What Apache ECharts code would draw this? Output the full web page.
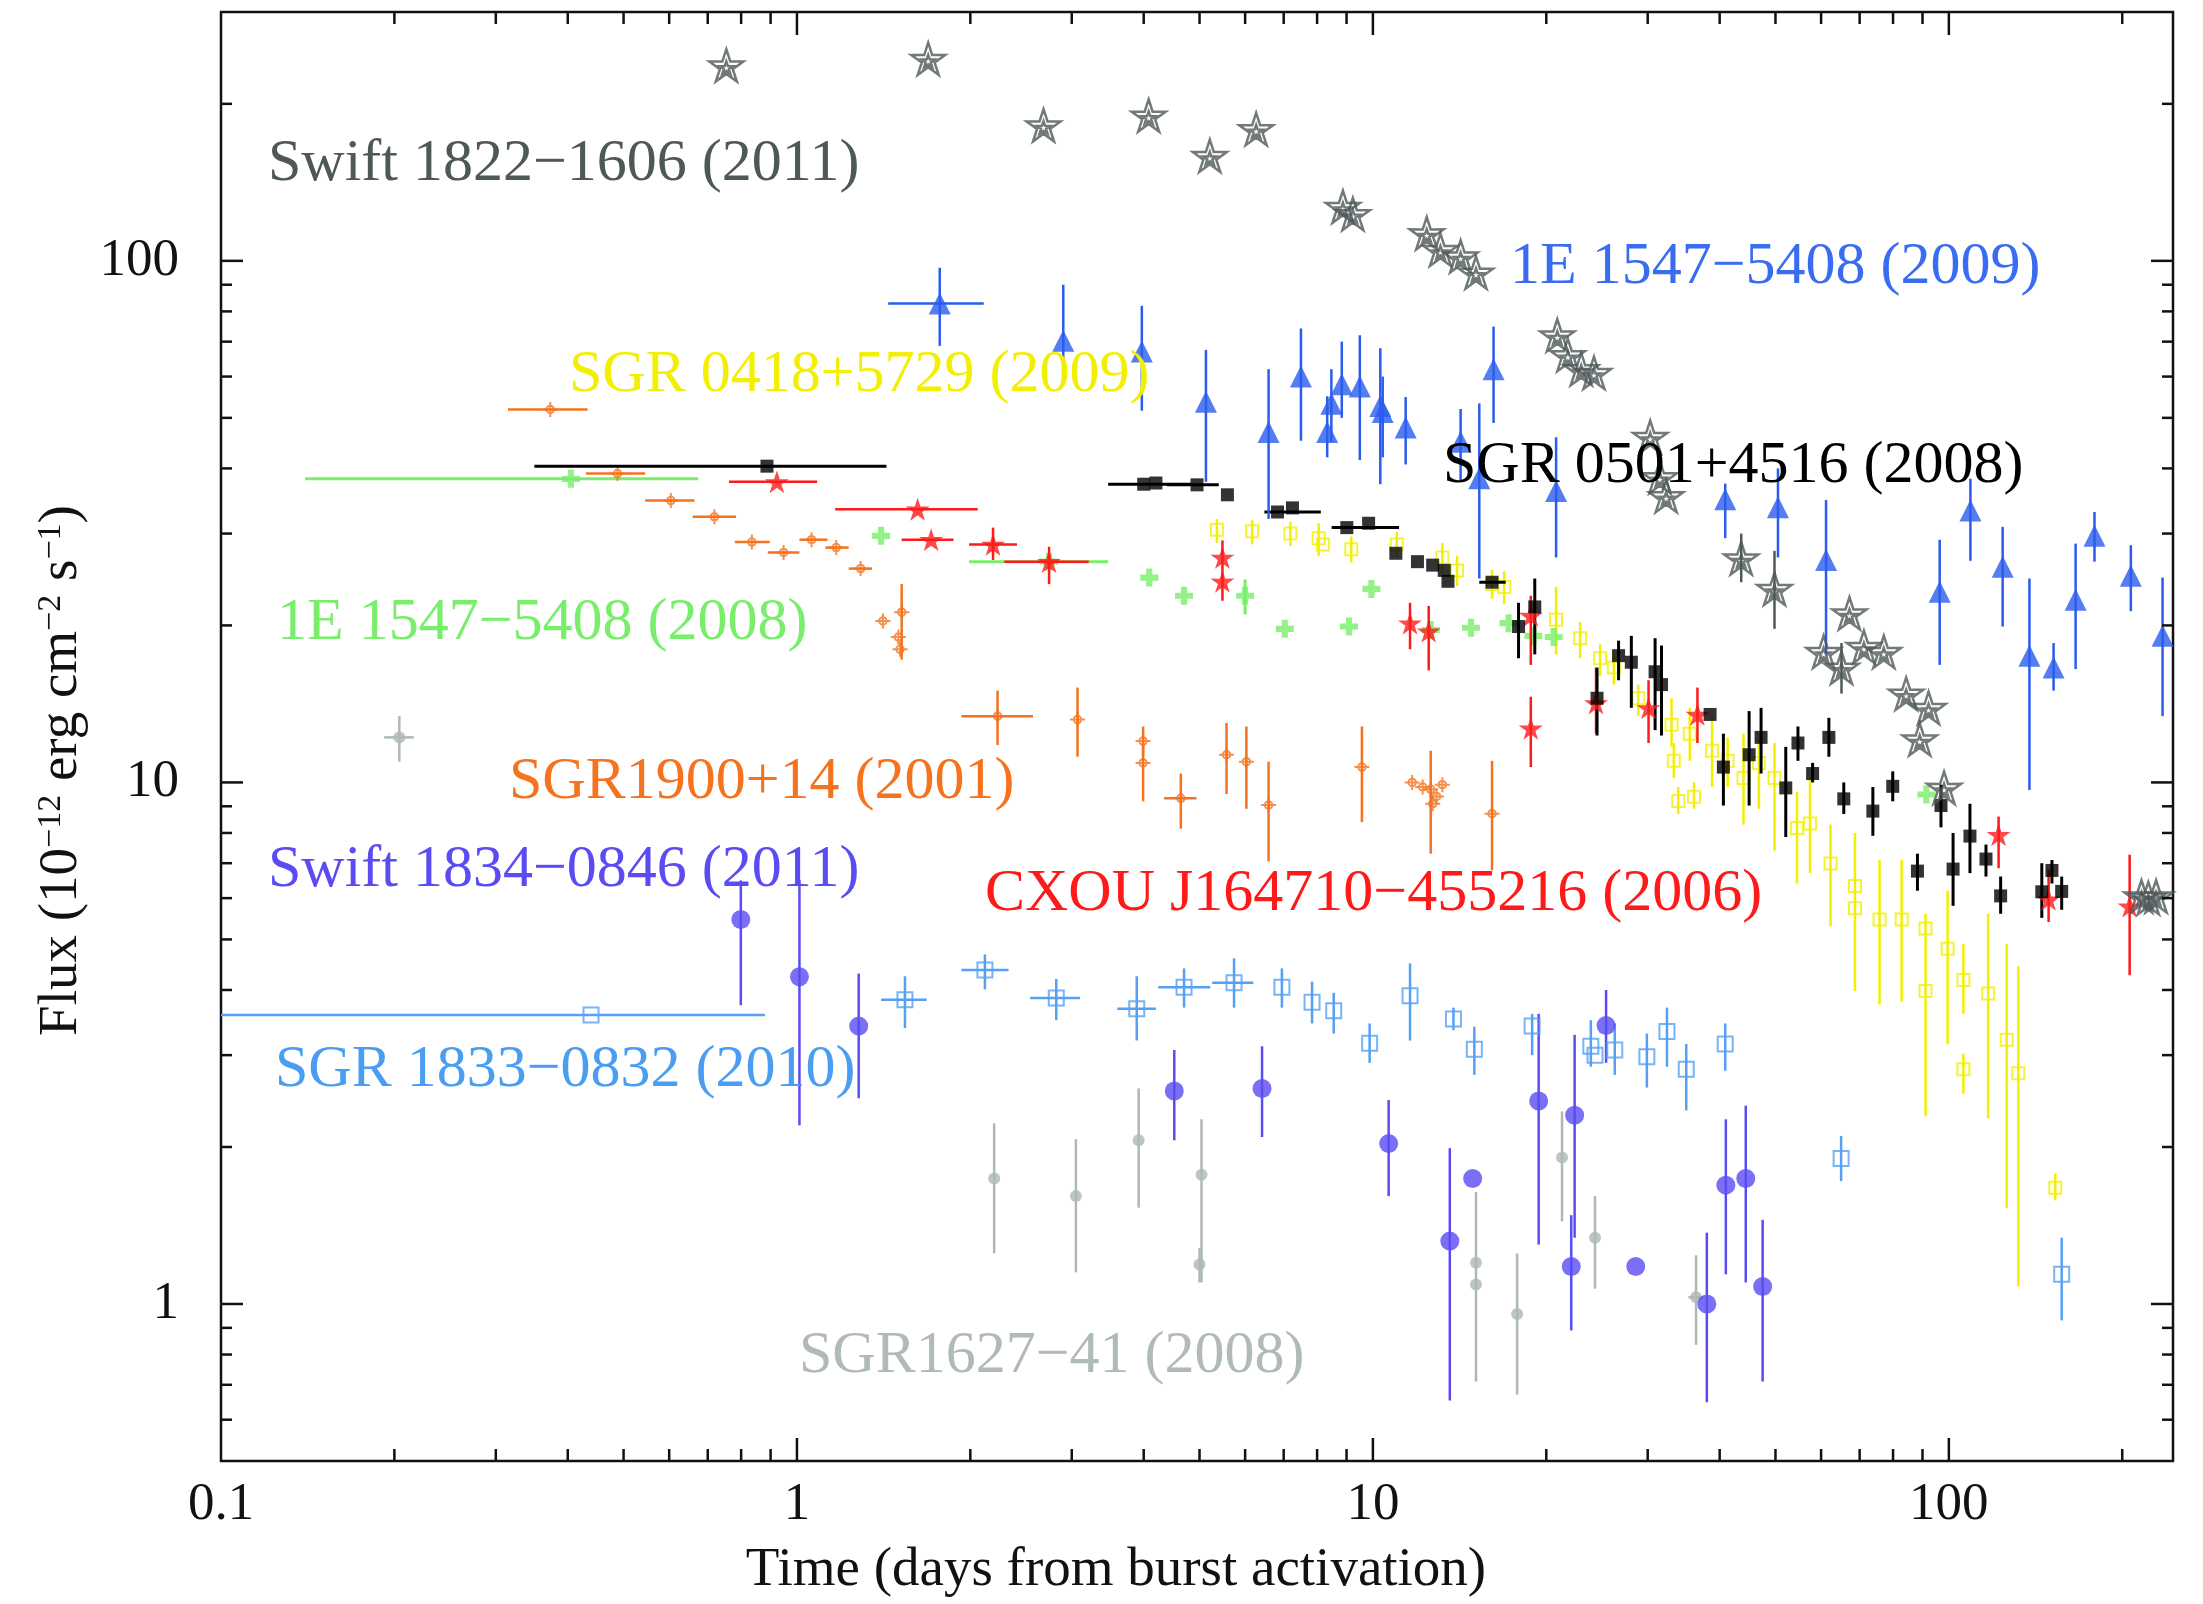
<!DOCTYPE html>
<html>
<head>
<meta charset="utf-8">
<script src="https://cdn.jsdelivr.net/npm/echarts@6/dist/echarts.min.js"></script>
<style>
  html, body { margin: 0; background: #fff; }
  #chart { width: 2203px; height: 1604px; }
</style>
</head>
<body>
<div id="chart"></div>
<script>
const FONT = "'Liberation Serif', 'DejaVu Serif', serif";

// axis ticks (values on the log axes)
const xTickLabels = [0.1, 1, 10, 100];
const xTickMajor = [1, 10, 100];
const xTickMinor = [0.2, 0.3, 0.4, 0.5, 0.6, 0.7, 0.8, 0.9, 2, 3, 4, 5, 6, 7, 8, 9,
                    20, 30, 40, 50, 60, 70, 80, 90, 200];
const yTickMajor = [1, 10, 100];
const yTickMinor = [0.6, 0.7, 0.8, 0.9, 2, 3, 4, 5, 6, 7, 8, 9,
                    20, 30, 40, 50, 60, 70, 80, 90, 200];

// rows: [days, flux, daysLo, daysHi, fluxLo, fluxHi]  (null = no bar)
const swift1822 = [
  [0.754, 237], [1.69, 244], [2.68, 182], [4.08, 190], [5.21, 159], [6.27, 179],
  [8.87, 127], [9.23, 123], [12.4, 113], [13.1, 105], [14.2, 102], [15.1, 95],
  [20.9, 72], [21.8, 66], [23.0, 62], [24.2, 61], [30.3, 46], [31.5, 38.5], [32.3, 35.4],
  [43.6, 26.9, null, null, 24.2, 30.0], [49.8, 23.5, null, null, 19.7, 27.8],
  [60.6, 17.8], [65.1, 16.6, null, null, 14.8, 18.5], [67.2, 21.1], [71.2, 18.2],
  [77.1, 17.8], [84.3, 14.8], [92.2, 13.9], [89.0, 12.1], [98.1, 9.77],
  [216, 6.05], [222, 6.0], [229, 6.05]
];

const e1547_2009 = [
  [1.77, 82.8, 1.44, 2.11, 68.7, 97], [2.90, 70.3, null, null, 65, 90],
  [3.97, 67, null, null, 51.6, 82], [5.13, 53.7, null, null, 37.7, 67.5],
  [6.59, 47, null, null, 32, 62], [7.5, 60, null, null, 45.2, 74.2],
  [8.33, 47, null, null, 42, 55], [8.47, 53.2, null, null, 45, 62],
  [8.83, 58, null, null, 50, 70], [9.49, 57.4, null, null, 41.5, 72],
  [10.3, 52.7, null, null, 37.3, 68], [10.4, 51.3, null, null, 42, 60],
  [11.4, 47.9, null, null, 40.7, 54.8], [14.2, 45, null, null, 38, 52],
  [15.3, 38.3, null, null, 24.6, 53.3], [16.2, 62, null, null, 48.9, 74.8],
  [20.8, 36.2, null, null, 27, 45.9], [40.9, 34.9, null, null, 29.4, 37.4],
  [50.5, 33.7, null, null, 27, 40], [61.2, 26.7, null, null, 17.6, 34.8],
  [96.4, 23.2, null, null, 16.8, 29.2], [109, 33.2, null, null, 26.6, 38.2],
  [124, 25.9, null, null, 19.9, 30.9], [138, 17.5, null, null, 9.67, 24.6],
  [152, 16.6, null, null, 15.0, 18.5], [166, 22.4, null, null, 16.5, 28.7],
  [179, 29.7, null, null, 26.5, 33], [207, 24.9, null, null, 21.3, 28.5],
  [235, 19.1, null, null, 13.4, 24.7]
];

const sgr0418 = [
  [5.36, 30.5, null, null, 28.8, 32.0], [6.17, 30.3, null, null, 28.6, 31.8],
  [7.19, 30.0, null, null, 28.4, 31.6], [8.05, 29.4, null, null, 27.2, 31.4],
  [8.19, 28.6], [9.17, 28.0, null, null, 26.4, 29.6], [11.0, 28.6, null, null, 27.0, 30.2],
  [13.2, 27.0, null, null, 25.2, 28.8], [14.0, 25.5, null, null, 23.8, 27.2],
  [16.1, 24.0, null, null, 22.5, 25.6], [16.9, 23.7, null, null, 22.0, 25.4],
  [20.8, 20.5, null, null, 17.6, 23.7], [22.9, 18.9, null, null, 17.3, 20.3],
  [24.8, 17.3, null, null, 16.0, 18.4], [26.2, 16.6, null, null, 15.4, 17.6],
  [28.9, 14.5, null, null, 13.4, 15.4], [33.0, 12.9, null, null, 11.7, 14.5],
  [33.3, 11.0, null, null, 10.2, 11.9], [33.9, 9.21, null, null, 8.7, 9.8],
  [35.5, 12.4, null, null, 11.0, 13.9], [36.1, 9.39, null, null, 8.9, 10.0],
  [38.8, 11.5, null, null, 9.8, 13.4], [41.3, 11.0, null, null, 9.8, 12.2],
  [44.0, 10.2, null, null, 8.3, 12.4], [46.8, 10.9, null, null, 8.9, 12.1],
  [49.8, 10.2, null, null, 7.4, 11.9], [54.5, 8.18, null, null, 6.4, 9.6],
  [57.4, 8.34, null, null, 6.7, 10.2], [62.3, 6.99, null, null, 5.3, 8.3],
  [68.7, 6.33, null, null, 3.98, 8.0], [68.7, 5.74], [75.8, 5.46, null, null, 3.75, 7.1],
  [82.8, 5.46, null, null, 3.8, 7.1], [91.1, 5.25, null, null, 2.29, 5.6], [91.1, 3.98],
  [99.5, 4.80, null, null, 3.15, 6.2], [106, 4.18, null, null, 3.6, 4.9],
  [106, 2.82, null, null, 2.53, 3.02], [117, 3.94, null, null, 2.27, 5.6],
  [126, 3.21, null, null, 1.53, 4.9], [132, 2.77, null, null, 1.08, 4.44],
  [153, 1.67, null, null, 1.58, 1.78]
];

const sgr0501 = [
  [0.887, 40.4, 0.350, 1.43], [4.0, 37.3, 3.47, 4.87], [4.2, 37.5], [4.95, 37.2, 4.39, 5.40],
  [5.59, 35.6], [6.83, 33.0, 6.48, 8.12], [7.25, 33.6], [9.01, 30.8, 8.48, 11.1],
  [9.83, 31.4], [10.96, 27.5], [11.95, 26.5], [12.7, 26.1], [13.3, 25.5], [13.5, 24.3],
  [16.1, 24.2, 15.3, 17.0], [17.9, 19.9, null, null, 17.3, 22.1],
  [19.1, 21.7, null, null, 17.6, 24.6], [24.5, 14.5, null, null, 12.3, 16.6],
  [26.7, 17.5, null, null, 15.7, 18.7], [28.1, 17.0, null, null, 13.9, 19.1],
  [30.9, 16.3, null, null, 12.6, 18.9], [31.7, 15.4, null, null, 12.3, 18.3],
  [38.5, 13.5], [40.6, 10.7, null, null, 9.03, 12.4], [45.0, 11.3, null, null, 9.03, 13.7],
  [47.2, 12.2, null, null, 10.4, 13.9], [52.1, 9.76, null, null, 7.86, 11.7],
  [54.7, 11.9, null, null, 11.0, 12.8], [58.0, 10.4, null, null, 10.0, 10.9],
  [61.9, 12.2, null, null, 11.2, 13.3], [65.7, 9.30, null, null, 8.7, 10.0],
  [73.8, 8.81, null, null, 7.9, 9.8], [79.9, 9.83, null, null, 9.2, 10.5],
  [88.2, 6.76, null, null, 6.2, 7.3], [96.9, 9.03, null, null, 8.2, 9.9],
  [101.7, 6.82, null, null, 5.8, 8.0], [108.8, 7.89, null, null, 6.7, 9.1],
  [116, 7.13, null, null, 6.6, 7.6], [123, 6.06, null, null, 5.6, 6.6],
  [145, 6.17, null, null, 5.5, 7.0], [151, 6.78, null, null, 6.4, 7.1],
  [157, 6.18, null, null, 5.7, 6.6]
];

const e1547_2008 = [
  [0.405, 38.2, 0.140, 0.674], [1.40, 29.7], [2.74, 26.5, 1.99, 3.47], [4.09, 24.7],
  [4.70, 22.8], [6.0, 22.8, null, null, 21.0, 24.5], [7.03, 19.7], [9.09, 19.9],
  [9.94, 23.5], [12.6, 19.6], [14.8, 19.8], [17.2, 20.2], [19.0, 19.1], [20.6, 19.0],
  [91.4, 9.48]
];

const sgr1900 = [
  [0.373, 51.9, 0.315, 0.433], [0.488, 39.1, 0.430, 0.545], [0.604, 34.7, 0.545, 0.664],
  [0.719, 32.3, 0.659, 0.784], [0.835, 28.9, 0.780, 0.897], [0.948, 27.6, 0.89, 1.01],
  [1.06, 29.2, 1.01, 1.13], [1.17, 28.2, 1.12, 1.23], [1.29, 25.7, 1.23, 1.35],
  [1.41, 20.4], [1.52, 21.2, null, null, 17.2, 24.0], [1.50, 19.0], [1.51, 18.0],
  [2.23, 13.4, 1.93, 2.57, 11.8, 15.0], [3.07, 13.2, null, null, 11.2, 15.2],
  [3.99, 12.0, null, null, 11.3, 12.8], [3.99, 10.9, null, null, 9.2, 11.8],
  [4.64, 9.32, 4.34, 4.94, 8.15, 10.4], [5.57, 11.3, null, null, 9.5, 13.0],
  [6.03, 10.96, null, null, 8.9, 12.8], [6.59, 9.05, null, null, 7.06, 10.96],
  [9.57, 10.7, null, null, 8.39, 12.8], [11.7, 10.0], [12.2, 9.8],
  [12.6, 9.7, null, null, 7.3, 11.5], [12.9, 9.4], [13.2, 9.9], [12.7, 9.1],
  [16.1, 8.71, null, null, 6.78, 11.0]
];

const cxou1647 = [
  [0.923, 37.7, 0.762, 1.084], [1.62, 33.4, 1.165, 2.06], [1.71, 29.2, 1.52, 1.87],
  [2.19, 28.6, 1.99, 2.41, 26.7, 30.8], [2.74, 26.5, 2.29, 3.21, 24.0, 28.3],
  [5.48, 27.0, null, null, 22.3, 29.1], [5.48, 24.3],
  [11.6, 20.2, null, null, 18.0, 22.1], [12.5, 19.5, null, null, 16.4, 21.8],
  [18.8, 20.9, null, null, 16.8, 22.8], [18.8, 12.7, null, null, 10.7, 14.6],
  [24.4, 14.2, null, null, 12.4, 16.6], [30.1, 13.9, null, null, 11.9, 15.7],
  [36.6, 13.5, null, null, 11.9, 15.2], [122, 7.94, null, null, 6.85, 8.6],
  [149, 5.97, null, null, 5.4, 6.8], [206, 5.79, null, null, 4.27, 7.27]
];

const swift1834 = [
  [0.799, 5.46, null, null, 3.74, 6.49], [1.01, 4.24, null, null, 2.20, 6.5],
  [1.28, 3.41, null, null, 2.48, 4.3], [4.52, 2.56, null, null, 2.06, 3.07],
  [6.42, 2.59, null, null, 2.09, 3.12], [10.65, 2.03, null, null, 1.61, 2.46],
  [13.6, 1.32, null, null, 0.653, 1.99], [14.9, 1.74], [19.4, 2.45, null, null, 1.30, 3.6],
  [22.4, 2.30, null, null, 1.34, 3.28], [22.1, 1.18, null, null, 0.89, 1.48],
  [25.4, 3.42, null, null, 2.9, 4.0], [28.6, 1.18], [38.0, 1.0, null, null, 0.648, 1.37],
  [41.0, 1.69, null, null, 1.14, 2.26], [44.4, 1.74, null, null, 1.10, 2.40],
  [47.5, 1.08, null, null, 0.71, 1.45]
];

const sgr1833 = [
  [0.439, 3.58, 0.1, 0.88], [1.54, 3.83, 1.40, 1.68, 3.38, 4.25],
  [2.12, 4.37, 1.93, 2.33, 4.01, 4.68], [2.82, 3.86, 2.54, 3.10, 3.5, 4.2],
  [3.89, 3.68, 3.60, 4.20, 3.2, 4.25], [4.70, 4.05, 4.24, 5.22, 3.7, 4.4],
  [5.74, 4.13, 5.26, 6.20, 3.7, 4.6], [6.95, 4.05, null, null, 3.7, 4.4],
  [7.84, 3.79, null, null, 3.45, 4.15], [8.55, 3.65, null, null, 3.3, 3.95],
  [9.87, 3.16, null, null, 2.9, 3.45], [11.6, 3.90, null, null, 3.2, 4.5],
  [13.8, 3.52, null, null, 3.35, 3.7], [15.0, 3.08, null, null, 2.75, 3.4],
  [18.9, 3.41, null, null, 3.0, 3.6], [23.9, 3.12, null, null, 2.85, 3.5], [24.3, 3.0],
  [26.3, 3.07, null, null, 2.75, 3.45], [29.9, 2.98, null, null, 2.6, 3.3],
  [32.4, 3.33, null, null, 2.85, 3.7], [35.0, 2.82, null, null, 2.35, 3.15],
  [40.9, 3.15, null, null, 2.8, 3.45], [65.0, 1.90, null, null, 1.72, 2.1],
  [157, 1.14, null, null, 0.93, 1.34]
];

const sgr1627 = [
  [0.204, 12.2, 0.192, 0.216, 10.96, 13.4], [2.20, 1.74, null, null, 1.25, 2.22],
  [3.05, 1.61, null, null, 1.15, 2.07], [3.92, 2.06, null, null, 1.53, 2.59],
  [5.04, 1.77, null, null, 1.10, 2.26], [5.00, 1.19, null, null, 1.10, 1.28],
  [15.1, 1.20, null, null, 0.71, 1.64], [15.1, 1.09], [17.8, 0.957, null, null, 0.67, 1.25],
  [21.3, 1.91, null, null, 1.44, 2.34], [24.3, 1.34, null, null, 1.07, 1.61],
  [36.4, 1.03, 35.3, 37.5, 0.835, 1.24]
];

function starPath(cx, cy, R, r) {
  let d = '';
  for (let i = 0; i < 10; i++) {
    const a = -Math.PI / 2 + i * Math.PI / 5;
    const rad = i % 2 ? r : R;
    d += (i ? 'L' : 'M') + (cx + rad * Math.cos(a)).toFixed(2) + ',' + (cy + rad * Math.sin(a)).toFixed(2);
  }
  return d + 'Z';
}
const STAR = 'path://' + starPath(50, 50, 50, 19);
const STAR_OPEN = 'path://' + starPath(50, 50, 50, 19) + starPath(50, 53, 19, 7.5);
const PLUS = 'path://M3.3,0H6.7V3.3H10V6.7H6.7V10H3.3V6.7H0V3.3H3.3Z';
const CIRCLE_CROSS = 'path://M0,10H20M10,0V20M15,10A5,5,0,1,1,5,10A5,5,0,1,1,15,10Z';

// error bars drawn through the axes' own scales
function bars(rows, color, width, z) {
  return {
    type: 'custom', silent: true, z: z,
    data: rows.map(r => [r[0], r[1], r[2] ?? r[0], r[3] ?? r[0], r[4] ?? r[1], r[5] ?? r[1]]),
    encode: { x: [0, 2, 3], y: [1, 4, 5] },
    renderItem: function (params, api) {
      const c = api.coord([api.value(0), api.value(1)]);
      const a = api.coord([api.value(2), api.value(1)]);
      const b = api.coord([api.value(3), api.value(1)]);
      const lo = api.coord([api.value(0), api.value(4)]);
      const hi = api.coord([api.value(0), api.value(5)]);
      const style = { stroke: color, lineWidth: width };
      const kids = [];
      if (b[0] - a[0] > 0.5) kids.push({ type: 'line', shape: { x1: a[0], y1: c[1], x2: b[0], y2: c[1] }, style: style });
      if (lo[1] - hi[1] > 0.5) kids.push({ type: 'line', shape: { x1: c[0], y1: hi[1], x2: c[0], y2: lo[1] }, style: style });
      return { type: 'group', children: kids };
    }
  };
}
function marks(rows, symbol, size, itemStyle, z) {
  return {
    type: 'scatter', silent: true, z: z, symbol: symbol, symbolSize: size,
    symbolKeepAspect: true, itemStyle: itemStyle,
    data: rows.map(r => [r[0], r[1]])
  };
}

const C = {
  swift1822: '#4e5858', e2009: '#2a5cef', sgr0418: '#f2f000', sgr0501: '#000000',
  e2008: '#78ee6a', sgr1900: '#f5731f', cxou: '#ff1a1a', swift1834: '#5a4cf2',
  sgr1833: '#55a0f2', sgr1627: '#aeb8b4'
};

const series = [
  bars(sgr1627, C.sgr1627, 2.5, 2), marks(sgr1627, 'circle', 12, { color: C.sgr1627 }, 3),
  bars(sgr1833, C.sgr1833, 2.5, 2),
  marks(sgr1833, 'rect', 15, { color: 'rgba(255,255,255,0)', borderColor: C.sgr1833, borderWidth: 2 }, 3),
  bars(swift1834, C.swift1834, 2.5, 2), marks(swift1834, 'circle', 19, { color: C.swift1834 }, 3),
  bars(sgr1900, C.sgr1900, 2.5, 2),
  marks(sgr1900, CIRCLE_CROSS, 15, { color: 'rgba(255,255,255,0)', borderColor: C.sgr1900, borderWidth: 2 }, 3),
  bars(e1547_2008, C.e2008, 3, 2), marks(e1547_2008, PLUS, 18, { color: C.e2008 }, 3),
  bars(sgr0418, C.sgr0418, 2.5, 2),
  marks(sgr0418, 'rect', 12, { color: 'rgba(255,255,255,0)', borderColor: C.sgr0418, borderWidth: 2 }, 3),
  bars(cxou1647, C.cxou, 2.5, 4), marks(cxou1647, STAR, 24, { color: C.cxou }, 5),
  bars(sgr0501, C.sgr0501, 3, 4), marks(sgr0501, 'rect', 13, { color: C.sgr0501 }, 5),
  bars(e1547_2009, C.e2009, 2.5, 4), marks(e1547_2009, 'triangle', 22, { color: C.e2009 }, 5),
  bars(swift1822, C.swift1822, 2.5, 6),
  marks(swift1822, STAR_OPEN, 34, { color: 'rgba(255,255,255,0)', borderColor: C.swift1822, borderWidth: 2.5 }, 7),
  {
    // inward ticks on all four sides
    type: 'custom', silent: true, z: 20, data: [[1, 1]],
    renderItem: function (params, api) {
      const cs = params.coordSys;
      const st = { stroke: '#111', lineWidth: 2.5 };
      const kids = [];
      const bottom = cs.y + cs.height, right = cs.x + cs.width;
      const xt = (vals, len) => vals.forEach(v => {
        const px = api.coord([v, 1])[0];
        kids.push({ type: 'line', shape: { x1: px, y1: bottom, x2: px, y2: bottom - len }, style: st });
        kids.push({ type: 'line', shape: { x1: px, y1: cs.y, x2: px, y2: cs.y + len }, style: st });
      });
      const yt = (vals, len) => vals.forEach(v => {
        const py = api.coord([1, v])[1];
        kids.push({ type: 'line', shape: { x1: cs.x, y1: py, x2: cs.x + len, y2: py }, style: st });
        kids.push({ type: 'line', shape: { x1: right, y1: py, x2: right - len, y2: py }, style: st });
      });
      xt(xTickMajor, 23); xt(xTickMinor, 12);
      yt(yTickMajor, 22); yt(yTickMinor, 11);
      return { type: 'group', children: kids };
    }
  }
];

const notes = [
  { text: 'Swift 1822\u22121606 (2011)', color: C.swift1822, x: 268, y: 164 },
  { text: '1E 1547\u22125408 (2009)', color: '#3a6cf2', x: 1510, y: 267 },
  { text: 'SGR 0418+5729 (2009)', color: C.sgr0418, x: 569, y: 375 },
  { text: 'SGR 0501+4516 (2008)', color: '#000', x: 1443, y: 466 },
  { text: '1E 1547\u22125408 (2008)', color: C.e2008, x: 277, y: 623 },
  { text: 'SGR1900+14 (2001)', color: C.sgr1900, x: 509, y: 782 },
  { text: 'Swift 1834\u22120846 (2011)', color: C.swift1834, x: 268, y: 870 },
  { text: 'CXOU J164710\u2212455216 (2006)', color: C.cxou, x: 985, y: 894 },
  { text: 'SGR 1833\u22120832 (2010)', color: '#4a9df0', x: 275, y: 1070 },
  { text: 'SGR1627\u221241 (2008)', color: '#b0bab6', x: 799, y: 1356 }
];

const chart = echarts.init(document.getElementById('chart'));
chart.setOption({
  animation: false,
  backgroundColor: '#fff',
  textStyle: { fontFamily: FONT },
  grid: { left: 221, right: 30, top: 12, bottom: 143, show: true, borderColor: '#111', borderWidth: 2.5 },
  xAxis: {
    type: 'log', min: 0.1, max: 245,
    name: 'Time (days from burst activation)', nameLocation: 'middle', nameGap: 82,
    nameTextStyle: { fontSize: 55, color: '#111', fontFamily: FONT, padding: [0, 162, 0, 0] },
    axisLine: { show: false }, axisTick: { show: false }, splitLine: { show: false },
    axisLabel: {
      fontSize: 53, color: '#111', margin: 18, fontFamily: FONT,
      showMinLabel: true, showMaxLabel: false,
      formatter: v => (xTickLabels.some(t => Math.abs(t - v) / t < 1e-6) ? String(v) : '')
    }
  },
  yAxis: {
    type: 'log', min: 0.5, max: 300,
    name: 'Flux (10{s|\u221212} erg cm{s|\u22122} s{s|\u22121})', nameLocation: 'middle', nameGap: 106,
    nameTextStyle: {
      fontSize: 55, color: '#111', fontFamily: FONT, padding: [0, 68, 0, 0],
      rich: { s: { fontSize: 34, verticalAlign: 'top', fontFamily: FONT, color: '#111' } }
    },
    axisLine: { show: false }, axisTick: { show: false }, splitLine: { show: false },
    axisLabel: {
      fontSize: 53, color: '#111', margin: 42, fontFamily: FONT,
      showMinLabel: false, showMaxLabel: false,
      formatter: v => (yTickMajor.some(t => Math.abs(t - v) / t < 1e-6) ? String(Math.round(v)) : '')
    }
  },
  graphic: notes.map(n => ({
    type: 'text', x: n.x, y: n.y, z: 30, silent: true,
    style: { text: n.text, fill: n.color, font: '60px ' + FONT, textAlign: 'left', textVerticalAlign: 'middle' }
  })),
  series: series
});
</script>
</body>
</html>
